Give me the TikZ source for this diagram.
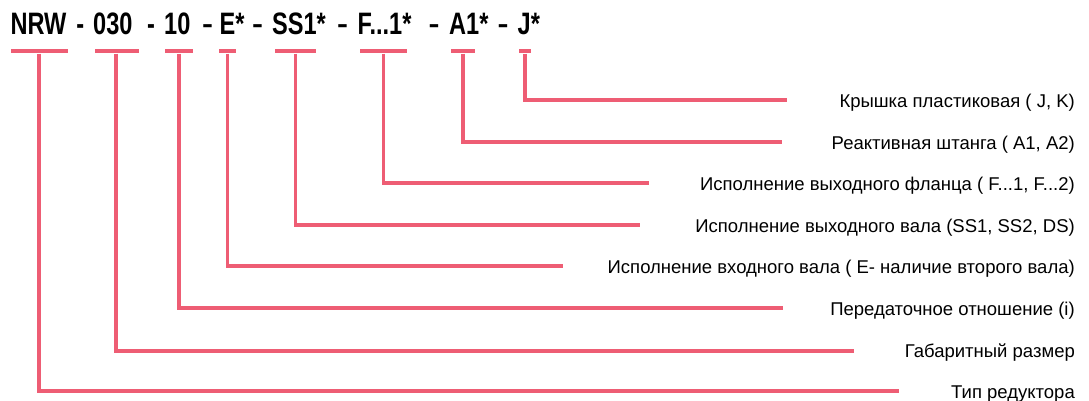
\documentclass[tikz,border=0pt]{standalone}
\usepackage{fontspec}
\setmainfont{Liberation Sans}
\newfontfamily\hdrfont[FakeStretch=0.76]{Liberation Sans}
\definecolor{codered}{RGB}{238,93,116}
\newcommand{\shortdash}{\scalebox{0.72}[1]{–}}
\begin{document}
\begin{tikzpicture}[x=1pt,y=-1pt,
  code/.style={anchor=base west,inner sep=0pt,font=\hdrfont\bfseries\fontsize{31}{31}\selectfont},
  sep/.style={anchor=base,inner sep=0pt,font=\hdrfont\bfseries\fontsize{31}{31}\selectfont},
  bar/.style={fill=codered,draw=none,inner sep=0pt,minimum height=4.6pt},
  lbl/.style={anchor=base east,inner sep=0pt,font=\fontsize{18.5}{19}\selectfont},
  conn/.style={draw=codered,line width=3.6pt,line join=miter}]
\useasboundingbox (0,0) rectangle (1089,400);
% header codes
\node[code] (c1) at (10.3,34.3) {NRW};
\node[sep] (d1) at (80.3,34.3) {-};
\node[code] (c2) at (93,34.3) {030};
\node[sep] (d2) at (151,34.3) {-};
\node[code] (c3) at (164,34.3) {10};
\node[sep] (d3) at (207.5,34.3) {\shortdash};
\node[code] (c4) at (219.5,34.3) {E*};
\node[sep] (d4) at (257.5,34.3) {\shortdash};
\node[code] (c5) at (272,34.3) {SS1*};
\node[sep] (d5) at (342.7,34.3) {\shortdash};
\node[code] (c6) at (357.5,34.3) {F...1*};
\node[sep] (d6) at (434,34.3) {\shortdash};
\node[code] (c7) at (449,34.3) {A1*};
\node[sep] (d7) at (503,34.3) {\shortdash};
\node[code] (c8) at (517.5,34.3) {J*};
% bars
\node[bar,minimum width=57pt] (b1) at (39.3,51) {};
\node[bar,minimum width=44.7pt] (b2) at (117,51) {};
\node[bar,minimum width=28pt] (b3) at (179,51) {};
\node[bar,minimum width=17pt] (b4) at (227.3,51) {};
\node[bar,minimum width=41pt] (b5) at (295.5,51) {};
\node[bar,minimum width=47pt] (b6) at (383.5,51) {};
\node[bar,minimum width=24.3pt] (b7) at (462.9,51) {};
\node[bar,minimum width=12.4pt] (b8) at (524.8,51) {};
% labels
\node[lbl] (l8) at (1075,107) {Крышка пластиковая ( J, K)};
\node[lbl] (l7) at (1075,149) {Реактивная штанга ( A1, A2)};
\node[lbl] (l6) at (1075,190) {Исполнение выходного фланца ( F...1, F...2)};
\node[lbl] (l5) at (1075,232) {Исполнение выходного вала (SS1, SS2, DS)};
\node[lbl] (l4) at (1075,273) {Исполнение входного вала ( E- наличие второго вала)};
\node[lbl] (l3) at (1075,315) {Передаточное отношение (i)};
\node[lbl] (l2) at (1075,357) {Габаритный размер};
\node[lbl] (l1) at (1075,398) {Тип редуктора};
% connector ends
\coordinate (e8) at (787,100);
\coordinate (e7) at (782,142);
\coordinate (e6) at (648.5,183);
\coordinate (e5) at (640,225);
\coordinate (e4) at (563,266);
\coordinate (e3) at (783,308);
\coordinate (e2) at (854,351);
\coordinate (e1) at (899,391);
% connectors
\draw[conn] (b1.south) ++(-0.3,0) |- (e1);
\draw[conn] (b2.south) ++(-1,0) |- (e2);
\draw[conn] (b3.south) |- (e3);
\draw[conn] (b4.south) |- (e4);
\draw[conn] (b5.south) |- (e5);
\draw[conn] (b6.south) |- (e6);
\draw[conn] (b7.south) |- (e7);
\draw[conn] (b8.south) |- (e8);
\end{tikzpicture}
\end{document}
